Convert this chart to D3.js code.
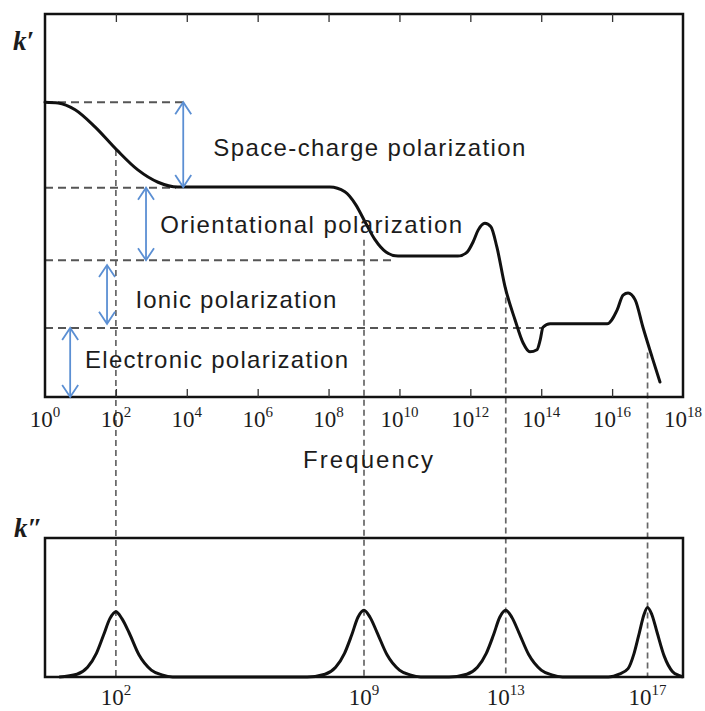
<!DOCTYPE html>
<html>
<head>
<meta charset="utf-8">
<script src="https://cdn.jsdelivr.net/npm/d3@7"></script>
<style>
  html, body { margin: 0; padding: 0; background: #fff; }
  svg { display: block; }
</style>
</head>
<body>
<svg id="chart" width="705" height="711"></svg>
<script>
// Frequency axis: log10 of frequency
const decadeTicks = [0, 2, 4, 6, 8, 10, 12, 14, 16, 18];
const innerTicks = [2, 4, 6, 8, 10, 12, 14, 16];
const lossPeaks = [2, 9, 13, 17];

// Real permittivity k' versus log10(frequency)
const kPrimeLogF = [0, 0.37, 0.85, 1.41, 2.03, 2.62, 3.19, 3.75, 4.23, 8.04, 8.46, 8.77, 9.03, 9.31, 9.62, 9.96,
  11.65, 11.91, 12.08, 12.22, 12.41, 12.58, 12.75, 12.98, 13.26, 13.49, 13.68, 13.88, 13.97, 14.05, 14.25,
  15.86, 16.14, 16.31, 16.45, 16.65, 16.87, 17.13, 17.35];
const kPrimeValue = [4.31, 4.30, 4.20, 3.95, 3.61, 3.32, 3.14, 3.07, 3.07, 3.07, 3.00, 2.81, 2.56, 2.30, 2.12, 2.06,
  2.06, 2.12, 2.27, 2.44, 2.54, 2.49, 2.19, 1.61, 1.13, 0.79, 0.66, 0.69, 0.83, 1.02, 1.07,
  1.07, 1.27, 1.49, 1.52, 1.42, 1.02, 0.58, 0.22];

// Dielectric loss k'' versus log10(frequency)
const kLossLogF = [0.4, 0.9, 1.2, 1.45, 1.65, 1.83, 2.0, 2.17, 2.37, 2.65, 3.0, 3.3, 3.6,
  7.4, 7.9, 8.2, 8.45, 8.65, 8.83, 9.0, 9.17, 9.37, 9.65, 10.0, 10.3, 10.6,
  11.4, 11.9, 12.2, 12.45, 12.65, 12.83, 13.0, 13.17, 13.37, 13.65, 14.0, 14.3, 14.6,
  15.9, 16.2, 16.45, 16.62, 16.77, 16.9, 17.0, 17.12, 17.27, 17.47, 17.7, 17.9, 18.0];
const kLossValue = [0, 0.02, 0.07, 0.17, 0.30, 0.42, 0.47, 0.42, 0.32, 0.16, 0.05, 0.015, 0,
  0, 0.02, 0.07, 0.17, 0.30, 0.43, 0.48, 0.43, 0.32, 0.16, 0.05, 0.015, 0,
  0, 0.02, 0.07, 0.17, 0.30, 0.43, 0.48, 0.43, 0.32, 0.16, 0.05, 0.015, 0,
  0, 0.02, 0.06, 0.17, 0.32, 0.45, 0.50, 0.45, 0.32, 0.15, 0.04, 0.01, 0];

// Contribution plateaus (k' levels) and where their guide lines stop
const levelValue = [4.31, 3.06, 2.0, 1.01];
const levelEnd = [3.9, 3.7, 9.9, 14.05];

// Polarization mechanisms: label, arrow position and span
const mechName = ["Space-charge polarization", "Orientational polarization", "Ionic polarization", "Electronic polarization"];
const mechArrowX = [3.9, 2.85, 1.75, 0.71];
const mechArrowTop = [4.31, 3.06, 1.93, 1.01];
const mechArrowBottom = [3.07, 2.0, 1.07, 0];
const mechLabelX = [4.75, 3.25, 2.55, 1.13];
const mechLabelY = [3.53, 2.4, 1.3, 0.43];
const mechLabelWidth = [312, 302, 201, 263];

// Where the vertical guides at the loss peaks start on the k' curve
const guideTop = [3.61, 2.3, 1.6, 0.65];

const svg = d3.select("#chart");
const x = d3.scaleLinear().domain([0, 18]).range([45, 683]);
const yTop = d3.scaleLinear().domain([0, 5.6]).range([397, 14]);
const yBot = d3.scaleLinear().domain([0, 1]).range([677, 538]);

const ink = "#111";
const dashInk = "#555";
const blue = "#5b8fd3";

// vertical dashed guides through both panels
svg.append("g").selectAll("line").data(lossPeaks).join("line")
  .attr("x1", d => x(d)).attr("x2", d => x(d))
  .attr("y1", (d, i) => yTop(guideTop[i])).attr("y2", yBot(0))
  .attr("stroke", "#666").attr("stroke-width", 1.7).attr("stroke-dasharray", "6,4");

// horizontal dashed level lines
svg.append("g").selectAll("line").data(levelValue).join("line")
  .attr("x1", x(0)).attr("x2", (d, i) => x(levelEnd[i]))
  .attr("y1", d => yTop(d)).attr("y2", d => yTop(d))
  .attr("stroke", dashInk).attr("stroke-width", 2).attr("stroke-dasharray", "8,5");

// top panel frame
svg.append("rect").attr("x", x(0)).attr("y", yTop(5.6))
  .attr("width", x(18) - x(0)).attr("height", yTop(0) - yTop(5.6))
  .attr("fill", "none").attr("stroke", ink).attr("stroke-width", 2.5);

// inward ticks on top and bottom edges
const tickBottom = d3.axisBottom(x).tickValues(innerTicks).tickSize(-8).tickFormat("");
const tickTop = d3.axisTop(x).tickValues(innerTicks).tickSize(-8).tickFormat("");
[[tickBottom, yTop(0)], [tickTop, yTop(5.6)]].forEach(([ax, ty]) => {
  const g = svg.append("g").attr("transform", `translate(0,${ty})`).call(ax);
  g.select(".domain").remove();
  g.selectAll(".tick line").attr("stroke", "#333").attr("stroke-width", 1.3);
});

// k' curve
const lineTop = d3.line().x(d => x(d[0])).y(d => yTop(d[1])).curve(d3.curveMonotoneX);
svg.append("path").datum(kPrimeLogF.map((f, i) => [f, kPrimeValue[i]]))
  .attr("d", lineTop).attr("fill", "none").attr("stroke", ink)
  .attr("stroke-width", 3).attr("stroke-linejoin", "round").attr("stroke-linecap", "round");

// double-headed blue arrows
const arrows = svg.append("g").attr("stroke", blue).attr("stroke-width", 1.8).attr("fill", "none");
mechName.forEach((n, i) => {
  const ax = x(mechArrowX[i]);
  const y1 = yTop(mechArrowTop[i]);
  const y2 = yTop(mechArrowBottom[i]);
  arrows.append("line").attr("x1", ax).attr("x2", ax).attr("y1", y1).attr("y2", y2);
  arrows.append("path").attr("d", `M${ax - 8},${y1 + 12}L${ax},${y1}L${ax + 8},${y1 + 12}`);
  arrows.append("path").attr("d", `M${ax - 8},${y2 - 12}L${ax},${y2}L${ax + 8},${y2 - 12}`);
});

// mechanism labels
svg.append("g").selectAll("text").data(mechName).join("text")
  .attr("x", (d, i) => x(mechLabelX[i])).attr("y", (d, i) => yTop(mechLabelY[i]))
  .attr("textLength", (d, i) => mechLabelWidth[i]).attr("lengthAdjust", "spacing")
  .attr("font-family", "'Liberation Sans', Arial, sans-serif").attr("font-size", 24)
  .attr("fill", "#1c1c1c").text(d => d);

// decade labels with superscript exponents
function powerLabel(g, v, yy) {
  const t = g.append("text").attr("x", x(v)).attr("y", yy).attr("text-anchor", "middle")
    .attr("font-family", "'Liberation Serif', 'Times New Roman', serif").attr("font-size", 23)
    .attr("fill", "#1c1c1c");
  t.append("tspan").text("10");
  t.append("tspan").attr("dy", -10).attr("font-size", 15).text(v);
}
const lblTop = svg.append("g");
decadeTicks.forEach(v => powerLabel(lblTop, v, 427));

svg.append("text").attr("x", 303).attr("y", 468).attr("textLength", 130).attr("lengthAdjust", "spacing")
  .attr("font-family", "'Liberation Sans', Arial, sans-serif").attr("font-size", 24)
  .attr("fill", "#1c1c1c").text("Frequency");

// axis symbols
svg.append("text").attr("x", 13).attr("y", 50)
  .attr("font-family", "'Liberation Serif', 'Times New Roman', serif").attr("font-style", "italic")
  .attr("font-weight", "bold").attr("font-size", 27).attr("fill", "#1c1c1c").text("k\u2032");
svg.append("text").attr("x", 14).attr("y", 537)
  .attr("font-family", "'Liberation Serif', 'Times New Roman', serif").attr("font-style", "italic")
  .attr("font-weight", "bold").attr("font-size", 27).attr("fill", "#1c1c1c").text("k\u2033");

// bottom panel frame
svg.append("rect").attr("x", x(0)).attr("y", yBot(1))
  .attr("width", x(18) - x(0)).attr("height", yBot(0) - yBot(1))
  .attr("fill", "none").attr("stroke", ink).attr("stroke-width", 2.5);

// k'' curve
const lineBot = d3.line().x(d => x(d[0])).y(d => yBot(d[1])).curve(d3.curveMonotoneX);
svg.append("path").datum(kLossLogF.map((f, i) => [f, kLossValue[i]]))
  .attr("d", lineBot).attr("fill", "none").attr("stroke", ink)
  .attr("stroke-width", 3).attr("stroke-linejoin", "round");

const lblBot = svg.append("g");
lossPeaks.forEach(v => powerLabel(lblBot, v, 705));
</script>
</body>
</html>
